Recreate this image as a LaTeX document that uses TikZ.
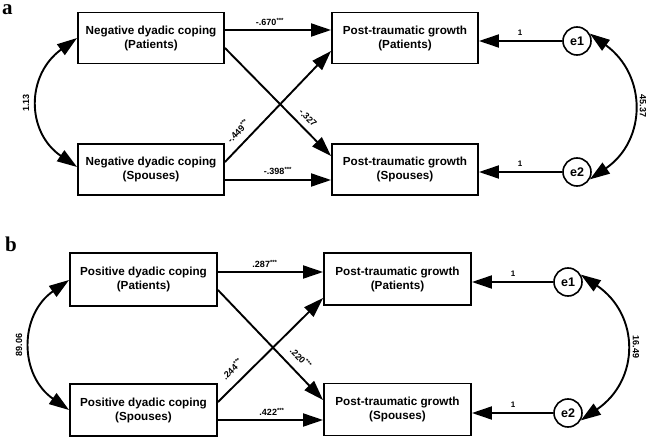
\documentclass[tikz,border=0pt]{standalone}
\usepackage{fontspec}
\setmainfont{Liberation Sans}
\newfontfamily\panelfont{Liberation Serif}
\usetikzlibrary{arrows.meta}
\begin{document}
\begin{tikzpicture}[x=1pt,y=-1pt,
 box/.style={draw, line width=1.9pt, minimum width=146pt, minimum height=51pt, align=center,
   font=\fontsize{11.7}{14}\selectfont\bfseries, inner sep=0pt},
 err/.style={draw, circle, line width=1.6pt, minimum size=28pt, inner sep=0pt,
   font=\fontsize{12.5}{14}\selectfont\bfseries},
 arr/.style={line width=1.9pt, -{Triangle[length=20pt,width=13pt]}},
 dbl/.style={line width=1.9pt, {Triangle[length=20pt,width=13pt]}-{Triangle[length=20pt,width=13pt]}},
 lab/.style={font=\fontsize{9}{10}\selectfont\bfseries, inner sep=1pt},
 sm/.style={font=\fontsize{8}{9}\selectfont\bfseries, inner sep=1pt},
 panel/.style={font=\fontsize{21}{23}\selectfont\panelfont\bfseries, anchor=base west, inner sep=0pt}]
\useasboundingbox[fill=white] (0,0) rectangle (649,439);

% ---------- panel a ----------
\node[panel] (la) at (2,15) {a};
\node[box] (NP) at (151,38) {Negative dyadic coping\\(Patients)};
\node[box] (NS) at (151,169.5) {Negative dyadic coping\\(Spouses)};
\node[box] (TP) at (405,38) {Post-traumatic growth\\(Patients)};
\node[box] (TS) at (405,169.5) {Post-traumatic growth\\(Spouses)};
\node[err] (e1) at (577,41) {e1};
\node[err] (e2) at (577,172) {e2};

\draw[arr] (NP.east |- 0,30) -- (TP.west |- 0,30);
\draw[arr] (NS.east |- 0,180) -- (TS.west |- 0,180);
\draw[arr] (NP.east |- 0,48) -- (TS.west |- 0,156);
\draw[arr] (NS.east |- 0,162) -- (TP.west |- 0,51);
\draw[arr] (e1.west) -- (e1.west -| TP.east);
\draw[arr] (e2.west) -- (e2.west -| TS.east);
\draw[dbl] (NP.west) .. controls (26,75) and (26,132) .. (NS.west |- 0,167);
\draw[dbl] (e1.30) .. controls (647,75) and (647,140) .. (e2.-30);

\node[lab] (a1) at (270,22) {-.670\textsuperscript{***}};
\node[lab] (a2) at (278,171) {-.398\textsuperscript{***}};
\node[lab, rotate=45.8] (a3) at (238,131) {-.449\textsuperscript{***}};
\node[lab, rotate=-45] (a4) at (308,118) {-.327};
\node[sm] (a5) at (520,33) {1};
\node[sm] (a6) at (520,164) {1};
\node[lab, rotate=90] (a7) at (26,103) {1.13};
\node[lab, rotate=-90] (a8) at (643,106) {45.37};

% ---------- panel b ----------
\node[panel] (lb) at (5,251) {b};
\node[box, minimum width=147pt, minimum height=53pt] (PP) at (143.5,279.5) {Positive dyadic coping\\(Patients)};
\node[box, minimum width=147pt, minimum height=52pt] (PS) at (143.5,410) {Positive dyadic coping\\(Spouses)};
\node[box, minimum width=147pt, minimum height=52pt] (QP) at (397.5,279) {Post-traumatic growth\\(Patients)};
\node[box, minimum width=147pt, minimum height=52pt] (QS) at (397.5,409.5) {Post-traumatic growth\\(Spouses)};
\node[err] (f1) at (568,282) {e1};
\node[err] (f2) at (568,413) {e2};

\draw[arr] (PP.east |- 0,272) -- (QP.west |- 0,272);
\draw[arr] (PS.east |- 0,420) -- (QS.west |- 0,420);
\draw[arr] (PP.east |- 0,290) -- (QS.west |- 0,400);
\draw[arr] (PS.east |- 0,402) -- (QP.west |- 0,298);
\draw[arr] (f1.west) -- (f1.west -| QP.east);
\draw[arr] (f2.west) -- (f2.west -| QS.east);
\draw[dbl] (PP.west |- 0,280) .. controls (19,315) and (19,375) .. (PS.west |- 0,410);
\draw[dbl] (f1.30) .. controls (640,315) and (640,380) .. (f2.-30);

\node[lab] (b1) at (265,264) {.287\textsuperscript{***}};
\node[lab] (b2) at (272,412) {.422\textsuperscript{***}};
\node[lab, rotate=44.2] (b3) at (232,369) {.244\textsuperscript{***}};
\node[lab, rotate=-45.8] (b4) at (301,358) {.220\textsuperscript{***}};
\node[sm] (b5) at (513,274) {1};
\node[sm] (b6) at (513,405) {1};
\node[lab, rotate=90] (b7) at (19,345) {89.06};
\node[lab, rotate=-90] (b8) at (636,347) {16.49};
\end{tikzpicture}
\end{document}
